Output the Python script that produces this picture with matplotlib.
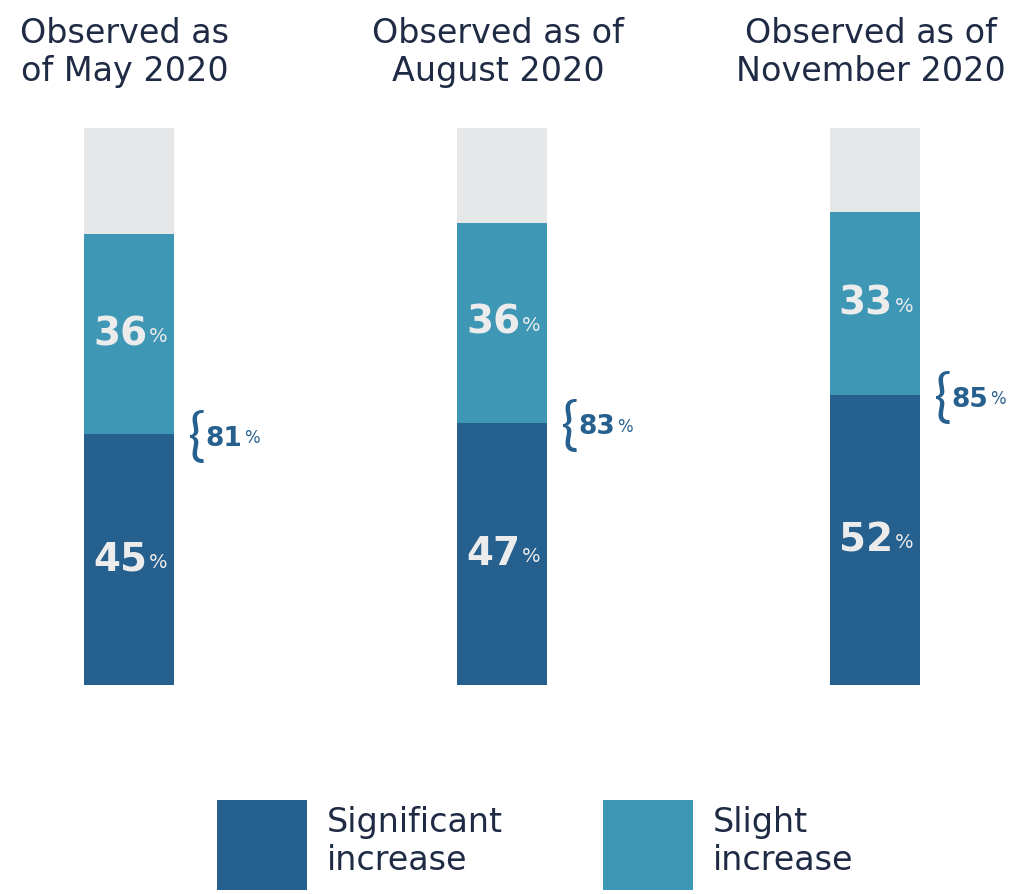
import matplotlib.pyplot as plt

plt.rcParams['font.family'] = ['DejaVu Sans']

periods = ['Observed as\nof May 2020', 'Observed as of\nAugust 2020', 'Observed as of\nNovember 2020']
significant = [45, 47, 52]
slight = [36, 36, 33]
totals = [81, 83, 85]

DARK = '#26608F'
LIGHT = '#3F97B6'
GREY = '#E6E7E9'
NAVY = '#1F2A44'
LABEL = '#ECECEC'

fig = plt.figure(figsize=(10.3, 8.94), dpi=100)
# axes mapped so 0..100% spans the bar heights
ax = fig.add_axes([0, (894 - 685) / 894, 1, (685 - 128) / 894])
ax.set_xlim(-129 / 373, (1030 - 129) / 373)
ax.set_ylim(0, 100)
ax.axis('off')

x = list(range(len(periods)))
w = 0.24
rest = [100 - a - b for a, b in zip(significant, slight)]

b1 = ax.bar(x, significant, w, color=DARK, label='Significant\nincrease')
b2 = ax.bar(x, slight, w, bottom=significant, color=LIGHT, label='Slight\nincrease')
ax.bar(x, rest, w, bottom=[a + b for a, b in zip(significant, slight)], color=GREY)

for i in x:
    # in-bar labels
    for val, mid in [(significant[i], significant[i] / 2),
                     (slight[i], significant[i] + slight[i] / 2)]:
        t = ax.annotate(str(val), (i, mid), xytext=(13, 0), textcoords='offset points',
                        ha='right', va='center', fontsize=28, fontweight='bold', color=LABEL)
        ax.annotate('%', (1, 0), xycoords=t, xytext=(1, 5), textcoords='offset points',
                    ha='left', va='bottom', fontsize=14, color=LABEL)
    # bracket total
    ax.annotate('{', (i + w / 2, significant[i]), xytext=(10, -3), textcoords='offset points',
                ha='left', va='center', fontsize=42, family='Lato', color=DARK)
    t = ax.annotate(str(totals[i]), (i + w / 2, significant[i]), xytext=(23, -3),
                    textcoords='offset points', ha='left', va='center',
                    fontsize=19, fontweight='bold', color=DARK)
    ax.annotate('%', (1, 0), xycoords=t, xytext=(1, 3), textcoords='offset points',
                ha='left', va='bottom', fontsize=12, color=DARK)
    # column title
    ax.annotate(periods[i], (i, 100), xytext=(-3, 80), textcoords='offset points',
                ha='center', va='top', fontsize=24, color=NAVY, linespacing=1.2)

fs = 24 * 100 / 72
fig.legend(handles=[b1, b2], loc='lower left', bbox_to_anchor=(217 / 1030, 4 / 894),
           ncol=2, frameon=False, fontsize=24, handlelength=90 / fs,
           handleheight=(90 / fs - 0.137) / 0.679,
           handletextpad=0.6, columnspacing=3.0, borderpad=0, borderaxespad=0,
           labelcolor=NAVY)

fig.savefig('out.png', dpi=100)
